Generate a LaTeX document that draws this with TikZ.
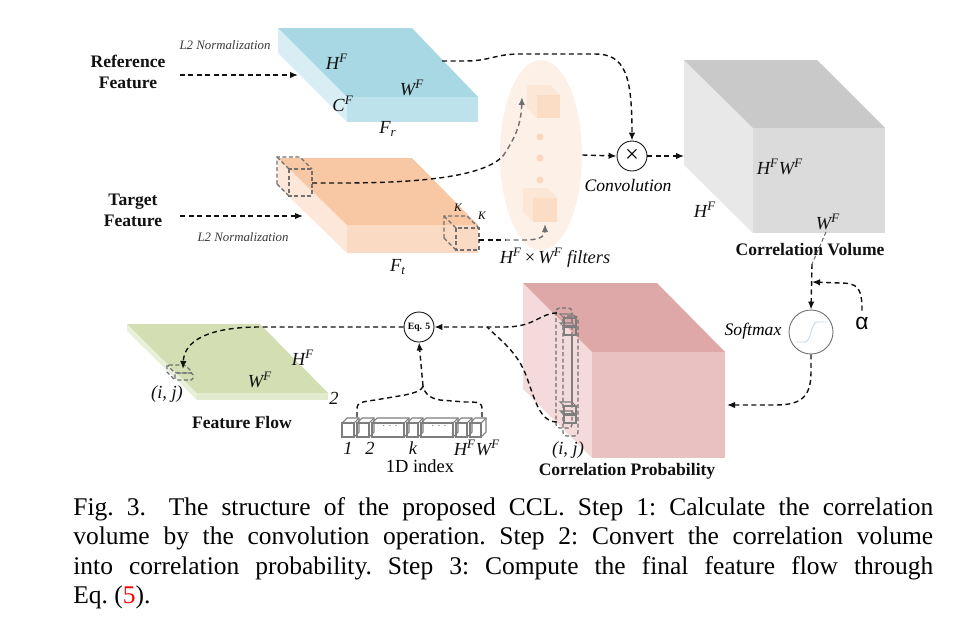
\documentclass[tikz,border=0pt]{standalone}
\usepackage{fontspec}
\setmainfont{Liberation Serif}
\newfontfamily\greekfont{Liberation Sans}
\usetikzlibrary{arrows.meta, calc, positioning, shapes.geometric}
\definecolor{Ink}{HTML}{111111}
\definecolor{Dim}{HTML}{707070}
\definecolor{Note}{HTML}{3A3A3A}
\definecolor{RefTop}{HTML}{A8D8E3}
\definecolor{RefFront}{HTML}{BDE2EC}
\definecolor{RefLeft}{HTML}{D8EEF4}
\definecolor{TarTop}{HTML}{F8C8A4}
\definecolor{TarFront}{HTML}{FBDAC3}
\definecolor{TarLeft}{HTML}{FDE7D8}
\definecolor{Halo}{HTML}{FDF0E7}
\definecolor{KerFront}{HTML}{FBDCC5}
\definecolor{KerTop}{HTML}{FCE6D6}
\definecolor{KerDot}{HTML}{FAD6BE}
\definecolor{VolTop}{HTML}{C9C9C9}
\definecolor{VolFront}{HTML}{DBDBDB}
\definecolor{VolLeft}{HTML}{E8E8E8}
\definecolor{ProbTop}{HTML}{DDA8A7}
\definecolor{ProbFront}{HTML}{E9C1C0}
\definecolor{ProbLeft}{HTML}{F4DADA}
\definecolor{FlowTop}{HTML}{D3DFB3}
\definecolor{FlowFront}{HTML}{E2EBCD}
\definecolor{FlowLeft}{HTML}{E9EFD8}
\definecolor{Sigmoid}{HTML}{C3D8EA}

\begin{document}
\begin{tikzpicture}[
  x=0.02cm, y=-0.02cm,
  flow/.style={
    -{Latex[length=1.6mm,width=1.3mm]},
    dash pattern=on 1mm off 0.7mm,
    line width=0.8pt,
    draw=Ink
  },
  dimflow/.style={
    flow,
    draw=Dim
  },
  link/.style={
    dash pattern=on 1mm off 0.7mm,
    line width=0.8pt,
    draw=Ink
  },
  cubeline/.style={
    dash pattern=on 0.8mm off 0.5mm,
    line width=0.7pt,
    draw=Dim
  },
  boxline/.style={
    line width=0.6pt,
    draw=Dim!90
  },
  op/.style={
    circle,
    draw=Ink,
    line width=0.5pt,
    fill=white,
    inner sep=0pt
  },
  halo/.style={
    ellipse,
    fill=Halo,
    minimum width=1.64cm,
    minimum height=3.8cm,
    inner sep=0pt
  },
  heading/.style={
    font=\fontsize{10}{12}\selectfont\bfseries,
    align=center,
    text=Ink
  },
  dimlabel/.style={
    font=\fontsize{10.5}{12}\selectfont\itshape,
    text=Ink
  },
  note/.style={
    font=\fontsize{7.3}{9}\selectfont\itshape,
    text=Note
  }
]

\fill[white] (0,0) rectangle (959,636);
\useasboundingbox (0,0) rectangle (959,636);

% reference feature slab
\fill[RefLeft] (278,28) -- (278,53) -- (347,122) -- (347,97) -- cycle;
\fill[RefTop] (278,28) -- (412,28) -- (478,97) -- (347,97) -- cycle;
\fill[RefFront] (347,97) rectangle (478,122);

\node[heading] (reflabel) at (128,72) {Reference\\Feature};
\node[note] (refnorm) at (225,45) {L2 Normalization};
\node[dimlabel] (refh) at (337,62) {H\textsuperscript{F}};
\node[dimlabel] (refw) at (412,88) {W\textsuperscript{F}};
\node[dimlabel] (refc) at (343,104) {C\textsuperscript{F}};
\node[dimlabel] (refname) at (388,129) {F\textsubscript{r}};

% target feature slab
\fill[TarLeft] (278,158) -- (278,186) -- (347,253) -- (347,225) -- cycle;
\fill[TarTop] (278,158) -- (412,158) -- (478,225) -- (347,225) -- cycle;
\fill[TarFront] (347,225) rectangle (478,253);

\draw[cubeline] (289,169) rectangle (312,196);
\draw[cubeline] (277,184) -- (277,157) -- (300,157) -- (312,169);
\draw[cubeline] (277,157) -- (289,169);
\draw[cubeline] (277,184) -- (289,196);

\draw[cubeline] (456,228) rectangle (479,250);
\draw[cubeline] (444,238) -- (444,216) -- (467,216) -- (479,228);
\draw[cubeline] (444,216) -- (456,228);
\draw[cubeline] (444,238) -- (456,250);

\node[heading] (tarlabel) at (133,210) {Target\\Feature};
\node[note] (tarnorm) at (243,237) {L2 Normalization};
\node[font=\fontsize{6.5}{8}\selectfont\itshape] (kh) at (458,208) {K};
\node[font=\fontsize{6.5}{8}\selectfont\itshape] (kw) at (482,216) {K};
\node[dimlabel] (tarname) at (398,267) {F\textsubscript{t}};

% filters
\node[halo] (filters) at (541,155) {};
\fill[KerTop] (527,85) -- (550,85) -- (560,95) -- (537,95) -- cycle;
\fill[KerTop] (527,85) -- (527,108) -- (537,118) -- (537,95) -- cycle;
\fill[KerFront] (537,95) rectangle (560,118);
\fill[KerTop] (523,188) -- (547,188) -- (557,198) -- (533,198) -- cycle;
\fill[KerTop] (523,188) -- (523,212) -- (533,222) -- (533,198) -- cycle;
\fill[KerFront] (533,198) rectangle (557,222);
\foreach \y in {137,158,180}
  \fill[KerDot] (540,\y) circle (3.5);
\node[dimlabel] (filtlabel) at (555,258) {H\textsuperscript{F}\,\upshape×\,\itshape W\textsuperscript{F} filters};

% correlation volume
\fill[VolLeft] (684,60) -- (684,165) -- (753,233) -- (753,128) -- cycle;
\fill[VolTop] (684,60) -- (817,60) -- (885,128) -- (753,128) -- cycle;
\fill[VolFront] (753,128) rectangle (885,233);
\node[dimlabel] (volhw) at (780,167) {H\textsuperscript{F}W\textsuperscript{F}};
\node[dimlabel] (volh) at (705,210) {H\textsuperscript{F}};
\node[dimlabel] (volw) at (828,222) {W\textsuperscript{F}};
\node[heading] (vollabel) at (810,250) {Correlation Volume};

\node[op, minimum size=0.6cm, font=\fontsize{14}{14}\selectfont] (mul) at (632,156) {×};
\node[font=\fontsize{10}{12}\selectfont\itshape] (convlabel) at (628,186) {Convolution};

% softmax
\node[op, draw=Dim, minimum size=0.88cm] (soft) at (811,332) {};
\draw[Sigmoid, line width=0.5pt] ($(soft)+(-15,10)$) -- ($(soft)+(-6,10)$)
  .. controls ($(soft)+(0,10)$) and ($(soft)+(0,-10)$) .. ($(soft)+(6,-10)$) -- ($(soft)+(15,-10)$);
\node[font=\fontsize{10}{12}\selectfont\itshape] (softlabel) at (753,331) {Softmax};
\node[font=\fontsize{13}{13}\greekfont] (alpha) at (862,323) {α};

% correlation probability
\fill[ProbLeft] (523,283) -- (523,389) -- (592,458) -- (592,352) -- cycle;
\fill[ProbTop] (523,283) -- (657,283) -- (725,352) -- (592,352) -- cycle;
\fill[ProbFront] (592,352) rectangle (725,458);
\draw[cubeline, rounded corners=2pt] (556,308) rectangle (572,428);
\draw[cubeline, rounded corners=2pt] (563,316) rectangle (578,436);
\foreach \y in {318,327,406,415} {
  \draw[boxline] (564,\y) rectangle (576,\y+8);
  \draw[boxline] (564,\y) -- (560,\y-4) -- (572,\y-4) -- (576,\y);
}
\draw[boxline] (572,335) -- (572,406);
\node[dimlabel] (problj) at (568,450) {(i, j)};
\node[heading] (problabel) at (627,471) {Correlation Probability};

% feature flow
\fill[FlowLeft] (127,324) -- (127,331) -- (197,400) -- (197,393) -- cycle;
\fill[FlowTop] (127,324) -- (260,324) -- (328,393) -- (197,393) -- cycle;
\fill[FlowFront] (197,393) rectangle (328,400);
\draw[cubeline, rounded corners=1pt] (167,365) -- (185,365) -- (193,373) -- (175,373) -- cycle;
\draw[cubeline, rounded corners=1pt] (175,373) rectangle (193,380);
\draw[cubeline] (167,365) -- (167,372) -- (175,380);
\node[dimlabel] (flowh) at (303,358) {H\textsuperscript{F}};
\node[dimlabel] (floww) at (260,380) {W\textsuperscript{F}};
\node[dimlabel] (flowc) at (334,398) {2};
\node[dimlabel] (flowij) at (167,394) {(i, j)};
\node[heading] (flowlabel) at (242,423) {Feature Flow};

% 1D index
\foreach \a/\b in {342/354, 357/369, 372/404, 407/418, 421/453, 456/467, 470/481} {
  \draw[boxline] (\a,423) rectangle (\b,437);
  \draw[boxline] (\a,423) -- (\a+5,418) -- (\b+5,418) -- (\b+5,432) -- (\b,437);
  \draw[boxline] (\b,423) -- (\b+5,418);
}
\node[font=\fontsize{6}{6}\selectfont, text=Dim] (gapa) at (390,427) {· · ·};
\node[font=\fontsize{6}{6}\selectfont, text=Dim] (gapb) at (439,427) {· · ·};
\node[dimlabel] (idxa) at (348,448) {1};
\node[dimlabel] (idxb) at (370,448) {2};
\node[dimlabel] (idxk) at (413,448) {k};
\node[dimlabel] (idxn) at (477,448) {H\textsuperscript{F}W\textsuperscript{F}};
\node[font=\fontsize{10.5}{12}\selectfont] (idxlabel) at (420,466) {1D index};

\node[op, minimum size=0.6cm, font=\fontsize{5.5}{6}\selectfont\bfseries] (eq) at (419,327) {Eq. 5};

% connectors
\coordinate (refin) at (298,75);
\coordinate (tarin) at (303,216);
\coordinate (refout) at (442,61);
\coordinate (cubea) at (312,183);
\coordinate (cubeb) at (479,240);
\coordinate (benda) at (503,156);
\coordinate (bendb) at (505,240);
\coordinate (kera) at (522,97);
\coordinate (kerb) at (545,224);
\coordinate (volin) at (684,156);
\coordinate (volout) at (826,232);
\coordinate (volgap) at (812,264);
\coordinate (join) at (812,282);
\coordinate (probin) at (727,405);
\coordinate (coltop) at (557,313);
\coordinate (colbot) at (557,422);
\coordinate (merge) at (487,327);
\coordinate (cell) at (183,369);
\coordinate (stripa) at (357,417);
\coordinate (stripb) at (482,417);
\coordinate (stripjoin) at (423,386);

\draw[flow] ($(reflabel.east)+(8,3)$) -- (refin);
\draw[flow] ($(tarlabel.east)+(12,6)$) -- (tarin);

\draw[flow] (refout) -- (465,61) .. controls (490,61) and (495,54) .. (520,54)
  -- (595,54) .. controls (625,54) and (632,75) .. (mul.north);

\draw[link] (cubea) -- (340,183) .. controls (430,183) and (485,175) .. (benda);
\draw[dimflow] (benda) .. controls (515,138) and (521,125) .. (kera);
\draw[link] (cubeb) -- (bendb);
\draw[dimflow] (bendb) -- (525,240) .. controls (540,240) and (545,236) .. (kerb);

\draw[flow] (filters.east) -- (mul.west);
\draw[flow] (mul.east) -- (volin);

\draw[Dim, dash pattern=on 0.8mm off 0.5mm, line width=0.6pt] (volout) -- (volgap);
\draw[flow] (volgap) -- (soft.north);
\draw[flow] (alpha.north) .. controls (862,288) and (858,283) .. (840,283) -- (join);
\draw[flow] (soft.south) -- (811,372) .. controls (811,398) and (800,405) .. (775,405) -- (probin);

\draw[flow] (coltop) .. controls (540,313) and (535,327) .. (505,327) -- (eq.east);
\draw[link] (colbot) .. controls (540,422) and (535,400) .. (527,378)
  .. controls (518,352) and (500,340) .. (merge);
\draw[flow] (eq.west) -- (260,327) .. controls (210,327) and (184,340) .. (cell);

\draw[link] (stripa) -- (357,409) .. controls (357,402) and (362,402) .. (375,400)
  -- (405,395) .. controls (418,392) and (422,390) .. (stripjoin);
\draw[link] (stripb) -- (482,409) .. controls (482,402) and (478,402) .. (465,402)
  -- (440,400) .. controls (428,398) and (424,392) .. (stripjoin);
\draw[flow] (stripjoin) -- (eq.south);

% caption
\node[anchor=base west, inner sep=0pt, text width=17.2cm, align=justify,
  font=\fontsize{14.5}{16.8}\selectfont\frenchspacing] (caption) at (73,515)
  {Fig.~3.\hspace{0.9em}The structure of the proposed CCL. Step 1: Calculate the correlation\linebreak
  volume by the convolution operation. Step 2: Convert the correlation volume\linebreak
  into correlation probability. Step 3: Compute the final feature flow through\linebreak
  Eq.~(\textcolor{red}{5}).};

\end{tikzpicture}
\end{document}
